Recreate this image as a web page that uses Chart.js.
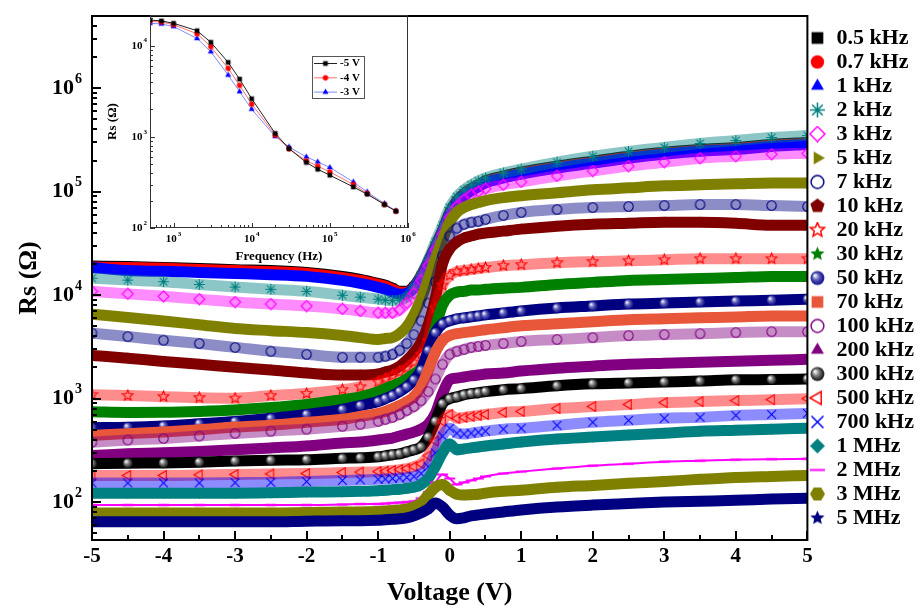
<!DOCTYPE html>
<html>
<head>
<meta charset="utf-8">
<script src="https://cdn.jsdelivr.net/npm/chart.js@4.4.1/dist/chart.umd.min.js"></script>
<style>
  html, body { margin: 0; padding: 0; background: #fff; }
  #wrap { position: relative; width: 924px; height: 612px; }
  #main { position: absolute; left: 0; top: 0; }
  #inset { position: absolute; left: 100px; top: 6px; }
</style>
</head>
<body>
<div id="wrap">
  <canvas id="main" width="924" height="612"></canvas>
  <canvas id="inset" width="316" height="262"></canvas>
</div>
<script>
// ---- main plot data: Rs (ohm) vs bias voltage, one array per frequency ----
const voltages = [-5, -4.5, -4, -3.5, -3, -2.5, -2, -1.5, -1.25, -1, -0.9, -0.8, -0.7, -0.6, -0.5, -0.4, -0.3, -0.2, -0.1, 0, 0.1, 0.2, 0.3, 0.4, 0.5, 0.75, 1, 1.5, 2, 2.5, 3, 3.5, 4, 4.5, 5];

const rs500Hz = [19100, 18900, 18500, 18100, 17600, 17300, 16600, 15200, 14200, 13000, 12500, 11700, 10900, 10900, 12200, 15500, 21100, 29900, 42500, 63100, 82100, 95700, 106800, 116600, 127300, 142000, 155100, 176900, 197400, 220200, 240400, 256800, 268300, 286500, 299400];
const rs700Hz = [18700, 18500, 18200, 17700, 17300, 16900, 16200, 14800, 13900, 12700, 12200, 11400, 10700, 10700, 11900, 15200, 20600, 29300, 41600, 61700, 80300, 93600, 104500, 114000, 124500, 139000, 151700, 173000, 193100, 215400, 235200, 251200, 262500, 280300, 292900];
const rs1kHz = [18500, 17300, 17000, 16600, 16200, 15800, 15200, 13900, 13000, 11900, 11400, 10700, 10200, 10400, 11700, 14800, 20200, 28700, 40700, 60400, 78600, 91600, 102200, 111600, 121800, 135900, 148400, 169300, 188900, 210800, 230100, 245800, 256800, 274200, 286500];
const rs2kHz = [14600, 14000, 13500, 12700, 12000, 11400, 10900, 10000, 9570, 9160, 8960, 8860, 8960, 9570, 11700, 15500, 22000, 32700, 47400, 70400, 89600, 104500, 116600, 127300, 135900, 151700, 165600, 193100, 220200, 245800, 268300, 292900, 312800, 334100, 349000];
const rs3kHz = [10900, 10300, 9750, 9160, 8590, 8210, 7860, 7360, 7040, 6740, 6740, 6740, 7200, 8390, 10400, 13900, 19300, 27400, 38900, 56500, 72000, 83900, 93600, 100000, 106800, 116600, 124500, 142000, 158500, 176900, 193100, 210800, 220200, 230100, 235200];
const rs5kHz = [6560, 6100, 5640, 5180, 4760, 4540, 4350, 4070, 3890, 3730, 3810, 3890, 4250, 4960, 6450, 9160, 14200, 22500, 34100, 50700, 63100, 70400, 75200, 78600, 82100, 87700, 91600, 97800, 104500, 109200, 114000, 116600, 119200, 121800, 121800];
const rs7kHz = [4300, 3980, 3670, 3410, 3130, 2870, 2680, 2510, 2510, 2510, 2570, 2680, 2930, 3410, 4160, 5650, 8390, 13600, 24000, 37300, 44400, 48500, 50700, 51800, 54100, 59100, 63100, 67400, 70400, 72000, 73600, 75200, 75200, 73600, 72000];
const rs10kHz = [2620, 2460, 2290, 2150, 2010, 1890, 1770, 1690, 1690, 1730, 1810, 1890, 2060, 2350, 2800, 3490, 5180, 9360, 20200, 28000, 32700, 35700, 37300, 38900, 39800, 41600, 43500, 46400, 48500, 49600, 50700, 50700, 49600, 47400, 47400];
const rs20kHz = [1090, 1070, 1045, 1020, 1010, 1070, 1120, 1220, 1300, 1450, 1550, 1660, 1810, 1970, 2250, 2680, 3650, 7520, 12500, 15500, 16900, 17300, 17700, 18100, 18500, 19300, 19700, 20600, 21100, 21500, 22000, 22500, 22500, 22500, 22500];
const rs30kHz = [745, 736, 738, 752, 776, 821, 877, 978, 1040, 1170, 1250, 1330, 1420, 1550, 1730, 1970, 2680, 4850, 8030, 10000, 10700, 10900, 11200, 11200, 11400, 11700, 11900, 12700, 13300, 13900, 14200, 14500, 14800, 15200, 15200];
const rs50kHz = [523, 529, 545, 572, 602, 645, 704, 786, 858, 936, 1000, 1070, 1170, 1300, 1520, 1890, 2930, 4350, 5290, 5650, 5910, 6040, 6170, 6310, 6450, 6740, 7040, 7520, 7860, 8210, 8390, 8580, 8770, 8960, 9160];
const rs70kHz = [441, 459, 477, 501, 531, 553, 591, 631, 674, 720, 752, 803, 858, 936, 1040, 1300, 1890, 2800, 3650, 4070, 4250, 4350, 4440, 4540, 4640, 4850, 5070, 5290, 5530, 5780, 5910, 6040, 6170, 6310, 6310];
const rs100kHz = [379, 398, 412, 435, 461, 485, 507, 541, 565, 604, 631, 659, 704, 769, 839, 957, 1170, 1550, 2150, 2680, 2870, 2990, 3130, 3200, 3270, 3410, 3570, 3730, 3890, 4070, 4160, 4250, 4350, 4440, 4440];
const rs200kHz = [282, 293, 300, 309, 320, 334, 349, 373, 381, 398, 407, 416, 435, 454, 474, 507, 565, 720, 1120, 1520, 1580, 1620, 1660, 1690, 1730, 1770, 1850, 1970, 2060, 2150, 2200, 2250, 2300, 2350, 2400];
const rs300kHz = [235, 238, 239, 243, 249, 254, 257, 265, 268, 274, 280, 287, 293, 306, 320, 341, 425, 604, 896, 1000, 1040, 1090, 1120, 1140, 1170, 1220, 1250, 1330, 1390, 1420, 1450, 1480, 1520, 1530, 1550];
const rs500kHz = [181, 181, 181, 183, 185, 187, 189, 193, 195, 197, 199, 202, 206, 211, 220, 235, 280, 389, 604, 704, 645, 659, 674, 689, 704, 736, 752, 803, 839, 877, 916, 936, 957, 978, 1000];
const rs700kHz = [153, 153, 153, 153, 154, 155, 158, 162, 164, 166, 167, 169, 171, 173, 177, 189, 220, 299, 435, 518, 464, 454, 464, 474, 485, 507, 518, 553, 591, 617, 645, 659, 689, 704, 720];
const rs1MHz = [122, 122, 122, 122, 122, 123, 125, 126, 127, 129, 130, 132, 133, 136, 139, 148, 169, 220, 299, 365, 320, 327, 334, 341, 349, 365, 381, 407, 425, 444, 464, 485, 496, 507, 518];
const rs2MHz = [93.6, 93.6, 93.6, 93.6, 93.6, 93.6, 93.6, 94.7, 95.8, 95.8, 96.8, 97.8, 98.9, 100, 102, 109, 125, 155, 185, 169, 148, 155, 162, 169, 177, 189, 197, 211, 225, 235, 246, 251, 257, 260, 262];
const rs3MHz = [78.6, 78.6, 78.6, 78.6, 78.6, 78.6, 79.4, 80.3, 80.3, 81.2, 82.1, 83.0, 83.9, 85.8, 89.6, 97.8, 117, 139, 148, 130, 119, 117, 118, 119, 122, 127, 130, 139, 145, 152, 158, 166, 173, 177, 181];
const rs5MHz = [64.5, 64.5, 64.5, 64.5, 64.5, 64.5, 65.3, 65.9, 65.9, 66.6, 67.4, 68.1, 68.9, 70.5, 73.6, 78.6, 85.8, 97.8, 89.6, 75.2, 68.9, 70.5, 73.6, 75.2, 76.8, 80.3, 83.9, 89.6, 93.6, 96.8, 100, 102, 104, 107, 109];

const seriesLabels = ['0.5 kHz', '0.7 kHz', '1 kHz', '2 kHz', '3 kHz', '5 kHz', '7 kHz', '10 kHz', '20 kHz', '30 kHz', '50 kHz',
  '70 kHz', '100 kHz', '200 kHz', '300 kHz', '500 kHz', '700 kHz', '1 MHz', '2 MHz', '3 MHz', '5 MHz'];
const seriesValues = [rs500Hz, rs700Hz, rs1kHz, rs2kHz, rs3kHz, rs5kHz, rs7kHz, rs10kHz, rs20kHz, rs30kHz, rs50kHz,
  rs70kHz, rs100kHz, rs200kHz, rs300kHz, rs500kHz, rs700kHz, rs1MHz, rs2MHz, rs3MHz, rs5MHz];

const xTickValues = [-5, -4, -3, -2, -1, 0, 1, 2, 3, 4, 5];
const yTickValues = [1e2, 1e3, 1e4, 1e5, 1e6];
const yTickExponents = ['2', '3', '4', '5', '6'];

// ---- inset data: Rs vs frequency at three biases ----
const insetFreqs = [500, 700, 1e3, 2e3, 3e3, 5e3, 7e3, 1e4, 2e4, 3e4, 5e4, 7e4, 1e5, 2e5, 3e5, 5e5, 7e5];
const insetMinus5V = [19100, 18700, 17600, 14600, 10900, 6560, 4300, 2620, 1090, 745, 523, 441, 379, 282, 235, 181, 153];
const insetMinus4V = [18500, 18200, 17000, 13500, 9750, 5640, 3670, 2290, 1045, 738, 545, 477, 412, 300, 239, 181, 153];
const insetMinus3V = [17600, 17300, 16200, 12000, 8590, 4760, 3130, 2010, 1010, 776, 602, 531, 461, 320, 249, 185, 154];
const insetLabels = ['-5 V', '-4 V', '-3 V'];
const insetXTickValues = [1e3, 1e4, 1e5, 1e6];
const insetXTickExponents = ['3', '4', '5', '6'];
const insetYTickValues = [1e2, 1e3, 1e4];
const insetYTickExponents = ['2', '3', '4'];

// ---- styles ----
const seriesStyles = [
  { color: '#000000', marker: 'square' },
  { color: '#ff0000', marker: 'circle' },
  { color: '#0000ff', marker: 'triUp' },
  { color: '#008080', marker: 'asterisk', open: true },
  { color: '#ff00ff', marker: 'diamondOpen', open: true },
  { color: '#808000', marker: 'triRight' },
  { color: '#000080', marker: 'ring', open: true },
  { color: '#800000', marker: 'pentagon' },
  { color: '#ff0000', marker: 'starOpen', open: true },
  { color: '#008000', marker: 'star' },
  { color: '#000080', marker: 'sphere' },
  { color: '#e8573a', marker: 'square' },
  { color: '#800080', marker: 'ring', open: true },
  { color: '#800080', marker: 'triUp' },
  { color: '#000000', marker: 'sphere' },
  { color: '#ff0000', marker: 'triLeftOpen', open: true },
  { color: '#0000ff', marker: 'cross', open: true },
  { color: '#008080', marker: 'diamond' },
  { color: '#ff00ff', marker: 'dash', thin: true },
  { color: '#808000', marker: 'hexagon' },
  { color: '#000080', marker: 'star' }
];

const SERIF = '"Liberation Serif", "Times New Roman", serif';
Chart.defaults.font.family = SERIF;
Chart.defaults.color = '#000';

function withAlpha(hex, a) {
  const n = parseInt(hex.slice(1), 16);
  return 'rgba(' + ((n >> 16) & 255) + ',' + ((n >> 8) & 255) + ',' + (n & 255) + ',' + a + ')';
}

function makeMarker(kind, color, size) {
  const c = document.createElement('canvas');
  c.width = size;
  c.height = size;
  const g = c.getContext('2d');
  const m = size / 2;
  const r = size / 2 - 1;
  g.fillStyle = color;
  g.strokeStyle = color;
  g.lineWidth = size > 14 ? 1.5 : 1.1;
  const polygon = (n, rot, inner) => {
    const k = inner ? n * 2 : n;
    g.beginPath();
    for (let i = 0; i < k; i++) {
      const rr = inner && i % 2 ? r * inner : r;
      const a = rot + i * 2 * Math.PI / k;
      g.lineTo(m + rr * Math.cos(a), m + rr * Math.sin(a));
    }
    g.closePath();
  };
  const up = -Math.PI / 2;
  switch (kind) {
    case 'square': g.fillRect(m - r * 0.78, m - r * 0.78, r * 1.56, r * 1.56); break;
    case 'circle': g.beginPath(); g.arc(m, m, r * 0.9, 0, 2 * Math.PI); g.fill(); break;
    case 'ring': g.beginPath(); g.arc(m, m, r * 0.85, 0, 2 * Math.PI); g.stroke(); break;
    case 'triUp': polygon(3, up); g.fill(); break;
    case 'triRight': polygon(3, 0); g.fill(); break;
    case 'triLeftOpen': polygon(3, Math.PI); g.stroke(); break;
    case 'diamond': polygon(4, up); g.fill(); break;
    case 'diamondOpen': polygon(4, up); g.stroke(); break;
    case 'pentagon': polygon(5, up); g.fill(); break;
    case 'hexagon': polygon(6, 0); g.fill(); break;
    case 'star': polygon(5, up, 0.45); g.fill(); break;
    case 'starOpen': polygon(5, up, 0.45); g.stroke(); break;
    case 'asterisk':
      g.beginPath();
      for (let i = 0; i < 4; i++) {
        const a = i * Math.PI / 4;
        g.moveTo(m - r * Math.cos(a), m - r * Math.sin(a));
        g.lineTo(m + r * Math.cos(a), m + r * Math.sin(a));
      }
      g.stroke();
      break;
    case 'cross':
      g.beginPath();
      g.moveTo(m - r * 0.8, m - r * 0.8); g.lineTo(m + r * 0.8, m + r * 0.8);
      g.moveTo(m + r * 0.8, m - r * 0.8); g.lineTo(m - r * 0.8, m + r * 0.8);
      g.stroke();
      break;
    case 'dash': g.fillRect(m - r, m - 1, 2 * r, 2); break;
    case 'sphere': {
      const grad = g.createRadialGradient(m - r * 0.35, m - r * 0.35, r * 0.05, m, m, r);
      grad.addColorStop(0, '#ffffff');
      grad.addColorStop(0.45, color === '#000000' ? '#777777' : '#5a5ab8');
      grad.addColorStop(1, color);
      g.fillStyle = grad;
      g.beginPath(); g.arc(m, m, r * 0.92, 0, 2 * Math.PI); g.fill();
      break;
    }
  }
  return c;
}

const dataMarkers = seriesStyles.map(s => makeMarker(s.marker, s.color, 13));
const legendMarkers = seriesStyles.map(s => makeMarker(s.marker, s.color, 17));

// "10^n" label with a raised exponent, right aligned or centred on x
function drawPower(ctx, exp, x, y, align, baseSize, expSize, lift) {
  ctx.font = 'bold ' + baseSize + 'px ' + SERIF;
  const wBase = ctx.measureText('10').width;
  ctx.font = 'bold ' + expSize + 'px ' + SERIF;
  const wExp = ctx.measureText(exp).width;
  const total = wBase + wExp + 1;
  const left = align === 'right' ? x - total : x - total / 2;
  ctx.textAlign = 'left';
  ctx.textBaseline = 'middle';
  ctx.font = 'bold ' + baseSize + 'px ' + SERIF;
  ctx.fillText('10', left, y);
  ctx.font = 'bold ' + expSize + 'px ' + SERIF;
  ctx.fillText(exp, left + wBase + 1, y - lift);
}

function logMinors(min, max) {
  const out = [];
  for (let d = 1; d <= 1e7; d *= 10) {
    for (let k = 2; k <= 9; k++) {
      const v = k * d;
      if (v > min && v < max) out.push(v);
    }
  }
  return out;
}

const mainDecor = {
  id: 'mainDecor',
  afterDatasetsDraw(chart) {
    const { ctx, chartArea: a, scales: { x, y } } = chart;
    ctx.save();
    ctx.strokeStyle = '#000';
    ctx.lineWidth = 2;
    ctx.strokeRect(a.left, a.top, a.right - a.left, a.bottom - a.top);
    ctx.beginPath();
    xTickValues.forEach(v => {
      const px = Math.round(x.getPixelForValue(v));
      ctx.moveTo(px, a.bottom); ctx.lineTo(px, a.bottom - 9);
      if (v < 5) {
        const pm = Math.round(x.getPixelForValue(v + 0.5));
        ctx.moveTo(pm, a.bottom); ctx.lineTo(pm, a.bottom - 5);
      }
    });
    yTickValues.forEach(v => {
      const py = Math.round(y.getPixelForValue(v));
      ctx.moveTo(a.left, py); ctx.lineTo(a.left + 9, py);
    });
    logMinors(y.min, y.max).forEach(v => {
      const py = Math.round(y.getPixelForValue(v));
      ctx.moveTo(a.left, py); ctx.lineTo(a.left + 5, py);
    });
    ctx.stroke();
    ctx.fillStyle = '#000';
    yTickValues.forEach((v, i) => {
      drawPower(ctx, yTickExponents[i], a.left - 10, y.getPixelForValue(v), 'right', 22, 14, 9);
    });
    ctx.restore();
  }
};

new Chart(document.getElementById('main'), {
  type: 'scatter',
  data: {
    datasets: seriesLabels.map((label, i) => {
      const st = seriesStyles[i];
      return {
        label,
        data: voltages.map((v, j) => ({ x: v, y: seriesValues[i][j] })),
        showLine: true,
        borderColor: st.open ? withAlpha(st.color, 0.45) : st.color,
        borderWidth: st.thin ? 2 : 11,
        pointStyle: dataMarkers[i],
        pointRadius: 5,
        cubicInterpolationMode: 'monotone',
        order: -i
      };
    })
  },
  options: {
    responsive: false,
    animation: false,
    events: [],
    layout: { padding: { top: 8, right: 0, left: 0, bottom: 0 } },
    scales: {
      x: {
        type: 'linear',
        min: -5,
        max: 5,
        afterBuildTicks: s => { s.ticks = xTickValues.map(v => ({ value: v })); },
        afterFit: s => { s.height = 72; },
        grid: { display: false, drawTicks: false },
        border: { display: false },
        ticks: { padding: 4, color: '#000', font: { size: 21, weight: 'bold' }, callback: v => String(v) },
        title: { display: true, text: 'Voltage (V)', color: '#000', font: { size: 26, weight: 'bold' }, padding: { top: 0, bottom: 3 } }
      },
      y: {
        type: 'logarithmic',
        min: 43,
        max: 5e6,
        afterBuildTicks: s => { s.ticks = yTickValues.map(v => ({ value: v })); },
        afterFit: s => { s.width = 92; },
        grid: { display: false, drawTicks: false },
        border: { display: false },
        ticks: { display: false },
        title: { display: true, text: 'Rs (Ω)', color: '#000', font: { size: 26, weight: 'bold' }, padding: { top: 14, bottom: 0 } }
      }
    },
    plugins: {
      tooltip: { enabled: false },
      legend: {
        position: 'right',
        fullSize: false,
        align: 'center',
        maxWidth: 118,
        labels: {
          usePointStyle: true,
          pointStyleWidth: 16,
          padding: 2,
          color: '#000',
          font: { size: 22, weight: 'bold' },
          generateLabels: chart => Chart.defaults.plugins.legend.labels.generateLabels(chart)
            .map(it => Object.assign(it, { pointStyle: legendMarkers[it.datasetIndex] })),
          sort: (a, b) => a.datasetIndex - b.datasetIndex
        }
      }
    }
  },
  plugins: [mainDecor]
});

// ---- inset ----
const insetStyles = [
  { line: '#222222', marker: makeMarker('square', '#000000', 8) },
  { line: '#ff7070', marker: makeMarker('circle', '#ff0000', 8) },
  { line: '#7f8cff', marker: makeMarker('triUp', '#0000ff', 9) }
];
const insetSeries = [insetMinus5V, insetMinus4V, insetMinus3V];

const insetDecor = {
  id: 'insetDecor',
  afterDraw(chart) {
    const { ctx, chartArea: a, scales: { x, y } } = chart;
    ctx.save();
    ctx.strokeStyle = '#333';
    ctx.lineWidth = 1;
    ctx.strokeRect(a.left + 0.5, a.top + 0.5, a.right - a.left - 1, a.bottom - a.top - 1);
    ctx.beginPath();
    insetXTickValues.forEach(v => {
      const px = Math.round(x.getPixelForValue(v)) + 0.5;
      ctx.moveTo(px, a.bottom); ctx.lineTo(px, a.bottom - 5);
    });
    logMinors(x.min, x.max).forEach(v => {
      const px = Math.round(x.getPixelForValue(v)) + 0.5;
      ctx.moveTo(px, a.bottom); ctx.lineTo(px, a.bottom - 3);
    });
    insetYTickValues.forEach(v => {
      const py = Math.round(y.getPixelForValue(v)) + 0.5;
      ctx.moveTo(a.left, py); ctx.lineTo(a.left + 5, py);
    });
    logMinors(y.min, y.max).forEach(v => {
      const py = Math.round(y.getPixelForValue(v)) + 0.5;
      ctx.moveTo(a.left, py); ctx.lineTo(a.left + 3, py);
    });
    ctx.stroke();
    ctx.fillStyle = '#000';
    insetXTickValues.forEach((v, i) => {
      drawPower(ctx, insetXTickExponents[i], x.getPixelForValue(v), a.bottom + 11, 'center', 11, 7, 5);
    });
    insetYTickValues.forEach((v, i) => {
      drawPower(ctx, insetYTickExponents[i], a.left - 3, y.getPixelForValue(v), 'right', 11, 7, 5);
    });
    // legend box
    const bl = 212, bt = 50, bw = 52, bh = 42;
    ctx.strokeStyle = '#555';
    ctx.strokeRect(bl + 0.5, bt + 0.5, bw, bh);
    ctx.font = 'bold 11px ' + SERIF;
    ctx.textAlign = 'left';
    ctx.textBaseline = 'middle';
    insetLabels.forEach((lab, i) => {
      const yy = bt + 7.5 + i * 14.3;
      ctx.strokeStyle = insetStyles[i].line;
      ctx.beginPath(); ctx.moveTo(bl + 2, yy); ctx.lineTo(bl + 25, yy); ctx.stroke();
      const mk = insetStyles[i].marker;
      ctx.drawImage(mk, bl + 13.5 - mk.width / 2, yy - mk.height / 2);
      ctx.fillStyle = '#000';
      ctx.fillText(lab, bl + 28, yy);
    });
    ctx.restore();
  }
};

new Chart(document.getElementById('inset'), {
  type: 'scatter',
  data: {
    datasets: insetLabels.map((label, i) => ({
      label,
      data: insetFreqs.map((f, j) => ({ x: f, y: insetSeries[i][j] })),
      showLine: true,
      borderColor: insetStyles[i].line,
      borderWidth: 1,
      pointStyle: insetStyles[i].marker,
      pointRadius: 4
    }))
  },
  options: {
    responsive: false,
    animation: false,
    events: [],
    layout: { padding: { top: 9, right: 8, left: 0, bottom: 0 } },
    scales: {
      x: {
        type: 'logarithmic',
        min: 500,
        max: 1e6,
        afterFit: s => { s.height = 40; },
        grid: { display: false, drawTicks: false },
        border: { display: false },
        ticks: { display: false },
        title: { display: true, text: 'Frequency (Hz)', color: '#000', font: { size: 13, weight: 'bold' }, padding: { top: 0, bottom: 4 } }
      },
      y: {
        type: 'logarithmic',
        min: 100,
        max: 21700,
        afterFit: s => { s.width = 50; },
        grid: { display: false, drawTicks: false },
        border: { display: false },
        ticks: { display: false },
        title: { display: true, text: 'Rs (Ω)', color: '#000', font: { size: 13, weight: 'bold' }, padding: { top: 5, bottom: 0 } }
      }
    },
    plugins: { legend: { display: false }, tooltip: { enabled: false } }
  },
  plugins: [insetDecor]
});
</script>
</body>
</html>
